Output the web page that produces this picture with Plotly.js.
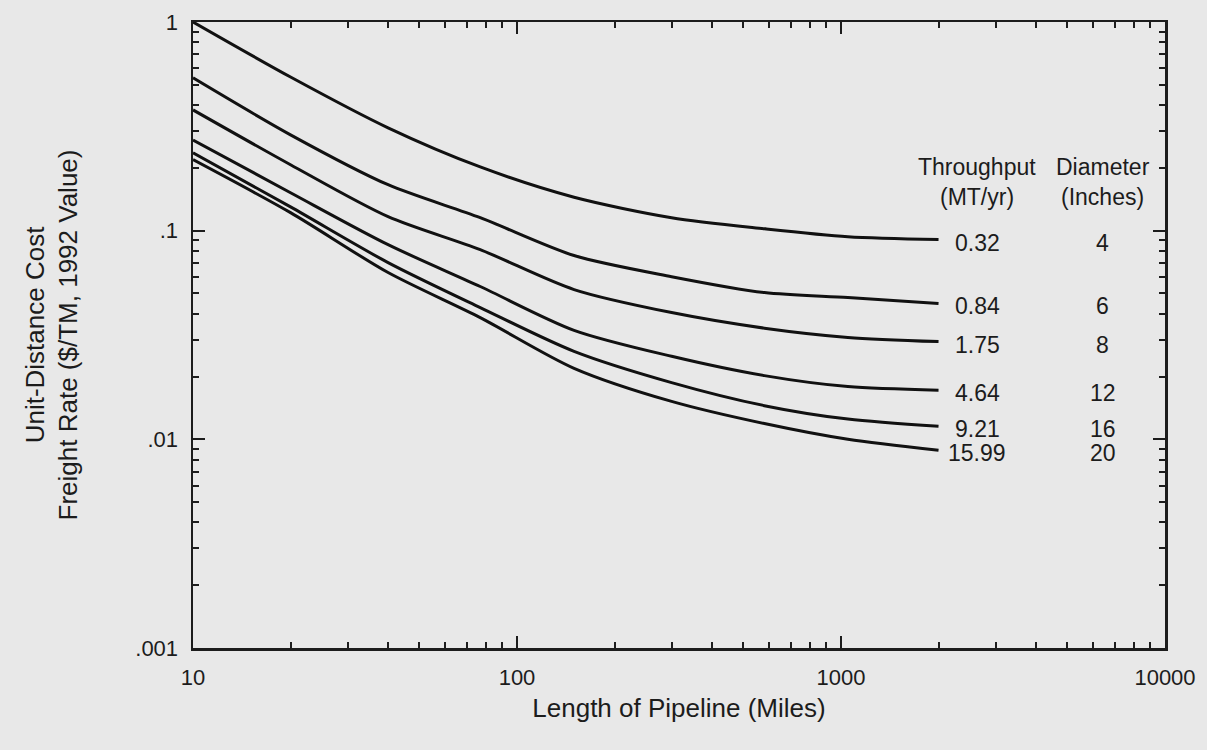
<!DOCTYPE html>
<html>
<head>
<meta charset="utf-8">
<script src="https://cdn.plot.ly/plotly-3.0.1.min.js"></script>
<style>
  html, body { margin: 0; padding: 0; background: #e8e8e8; }
  #chart { width: 1207px; height: 750px; }
</style>
</head>
<body>
<div id="chart"></div>
<script>
// Length of pipeline (miles)
const distance = [10, 20, 40, 77, 150, 300, 580, 1050, 2000];
// Unit-distance cost ($/TM, 1992 value) per throughput
const rate_032  = [1.0,   0.545, 0.311,  0.202,  0.1446, 0.1154, 0.1022, 0.0936, 0.0906];
const rate_084  = [0.540, 0.288, 0.166,  0.1154, 0.0760, 0.0602, 0.0505, 0.0478, 0.0448];
const rate_175  = [0.379, 0.207, 0.1167, 0.0811, 0.0522, 0.0405, 0.0341, 0.0308, 0.0294];
const rate_464  = [0.272, 0.152, 0.0857, 0.0540, 0.0333, 0.0250, 0.0202, 0.0179, 0.0172];
const rate_921  = [0.236, 0.130, 0.0703, 0.0428, 0.0264, 0.0187, 0.0145, 0.0125, 0.01154];
const rate_1599 = [0.219, 0.122, 0.0630, 0.0383, 0.0219, 0.0152, 0.0119, 0.0100, 0.00886];

const throughput = ['0.32', '0.84', '1.75', '4.64', '9.21', '15.99'];
const diameter   = ['4', '6', '8', '12', '16', '20'];

const xTickVals = [10, 100, 1000, 10000];
const xTickText = ['10', '100', '1000', '10000'];
const yTickVals = [0.001, 0.01, 0.1, 1];
const yTickText = ['.001', '.01', '.1', '1'];

const series = [rate_032, rate_084, rate_175, rate_464, rate_921, rate_1599];

function minorVals(decades) {
  const out = [];
  decades.forEach(d => { for (let k = 2; k <= 9; k++) out.push(k * d); });
  return out;
}

const FONT = 'Liberation Sans, Arial, Helvetica, sans-serif';
const INK = '#1c1c1c';

const traces = series.map((ys, i) => ({
  type: 'scatter',
  mode: 'lines',
  x: distance,
  y: ys,
  name: throughput[i],
  line: { color: '#111', width: 3, shape: 'spline', smoothing: 0.8 },
  hoverinfo: 'x+y+name'
}));

const annotations = [];
const txtFont = { family: FONT, size: 23, color: INK };
annotations.push({ xref: 'paper', yref: 'paper', x: 0.8066, y: 0.768, text: 'Throughput', showarrow: false, font: txtFont, xanchor: 'center', yanchor: 'middle' });
annotations.push({ xref: 'paper', yref: 'paper', x: 0.8066, y: 0.720, text: '(MT/yr)', showarrow: false, font: txtFont, xanchor: 'center', yanchor: 'middle' });
annotations.push({ xref: 'paper', yref: 'paper', x: 0.9362, y: 0.768, text: 'Diameter', showarrow: false, font: txtFont, xanchor: 'center', yanchor: 'middle' });
annotations.push({ xref: 'paper', yref: 'paper', x: 0.9362, y: 0.720, text: '(Inches)', showarrow: false, font: txtFont, xanchor: 'center', yanchor: 'middle' });
series.forEach((ys, i) => {
  const yEnd = Math.log10(ys[ys.length - 1]);
  annotations.push({ xref: 'paper', yref: 'y', x: 0.8066, y: yEnd, yshift: -3, text: throughput[i], showarrow: false, font: txtFont, xanchor: 'center', yanchor: 'middle' });
  annotations.push({ xref: 'paper', yref: 'y', x: 0.9362, y: yEnd, yshift: -3, text: diameter[i], showarrow: false, font: txtFont, xanchor: 'center', yanchor: 'middle' });
});

const axisCommon = {
  type: 'log',
  showgrid: false,
  zeroline: false,
  showline: true,
  linecolor: INK,
  linewidth: 2.5,
  mirror: 'ticks',
  ticks: 'inside',
  ticklen: 12,
  tickwidth: 2,
  tickcolor: INK,
  tickmode: 'array',
  ticklabelstandoff: 8,
  tickfont: { family: FONT, size: 22, color: INK }
};

const layout = {
  width: 1207,
  height: 750,
  paper_bgcolor: '#e8e8e8',
  plot_bgcolor: '#e8e8e8',
  showlegend: false,
  margin: { l: 193, r: 42, t: 22, b: 102 },
  xaxis: Object.assign({}, axisCommon, {
    range: [1, 4],
    tickvals: xTickVals,
    ticktext: xTickText,
    minor: { tickmode: 'array', tickvals: minorVals([10, 100, 1000]), ticks: 'inside', ticklen: 6, tickwidth: 2, tickcolor: INK, showgrid: false },
    title: { text: 'Length of Pipeline (Miles)', font: { family: FONT, size: 26, color: INK }, standoff: 10 }
  }),
  yaxis: Object.assign({}, axisCommon, {
    range: [-3, 0],
    tickvals: yTickVals,
    ticktext: yTickText,
    minor: { tickmode: 'array', tickvals: minorVals([0.001, 0.01, 0.1]), ticks: 'inside', ticklen: 6, tickwidth: 2, tickcolor: INK, showgrid: false },
    title: { text: 'Unit-Distance Cost<br>Freight Rate ($/TM, 1992 Value)', font: { family: FONT, size: 26, color: INK }, standoff: 50 }
  }),
  annotations: annotations
};

Plotly.newPlot('chart', traces, layout, { displayModeBar: false, staticPlot: true });
</script>
</body>
</html>
